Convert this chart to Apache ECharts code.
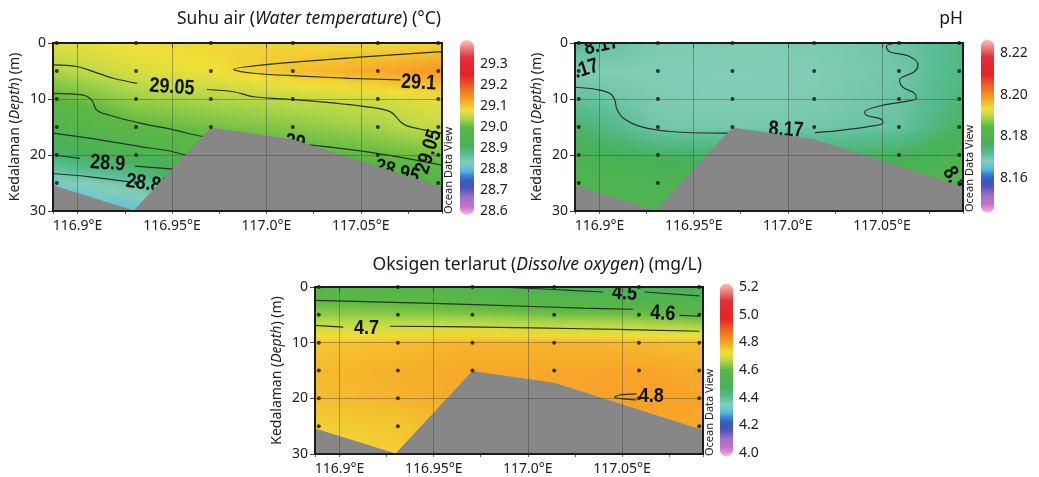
<!DOCTYPE html>
<html><head><meta charset="utf-8">
<script src="https://cdn.jsdelivr.net/npm/echarts@6/dist/echarts.min.js"></script>
<style>html,body{margin:0;padding:0;background:#fff}#c{width:1039px;height:477px}</style>
</head><body><div id="c"></div>
<script>
// ---------------- DATA ----------------
const stationLon = [116.889, 116.931, 116.9706, 117.014, 117.059, 117.091];
const depthLevels = [0, 5, 10, 15, 20, 25, 30];
const sampleDepths = [[0,5,10,15,20,25],[0,5,10,15,20,25],[0,5,10,15],[0,5,10,15],[0,5,10,15,20],[0,5,10,15,20,25]];
const bathyLon = [116.887, 116.9298, 116.9706, 117.014, 117.093];
const bathyDepth = [25.5, 30, 15.2, 17.3, 25.8];

// field values at stations (rows = depth levels, columns = stations)
const tempGrid = [
  [29.07, 29.085, 29.09, 29.09, 29.085, 29.09],
  [29.04, 29.065, 29.08, 29.105, 29.125, 29.14],
  [28.995, 29.03, 29.04, 29.05, 29.06, 29.075],
  [28.955, 28.995, 29.01, 29.02, 29.035, 29.055],
  [28.90, 28.935, 28.98, 28.99, 29.00, 29.01],
  [28.82, 28.85, 28.93, 28.95, 28.96, 28.97],
  [28.79, 28.80, 28.88, 28.90, 28.92, 28.93]
];
const phGrid = [
  [8.172, 8.169, 8.1688, 8.1688, 8.1702, 8.173],
  [8.1685, 8.1685, 8.1682, 8.1685, 8.1698, 8.173],
  [8.171, 8.1688, 8.1685, 8.1688, 8.1702, 8.174],
  [8.175, 8.1697, 8.1694, 8.1697, 8.1706, 8.176],
  [8.178, 8.176, 8.175, 8.175, 8.176, 8.179],
  [8.180, 8.179, 8.178, 8.178, 8.179, 8.181],
  [8.181, 8.180, 8.180, 8.180, 8.180, 8.182]
];
const doGrid = [
  [4.56, 4.55, 4.53, 4.50, 4.48, 4.47],
  [4.645, 4.64, 4.635, 4.62, 4.615, 4.59],
  [4.755, 4.765, 4.775, 4.775, 4.77, 4.765],
  [4.77, 4.78, 4.79, 4.79, 4.795, 4.785],
  [4.765, 4.775, 4.79, 4.795, 4.802, 4.795],
  [4.745, 4.755, 4.78, 4.79, 4.795, 4.79],
  [4.735, 4.745, 4.77, 4.78, 4.79, 4.785]
];

// colour bar value ranges and tick labels
const tempBar = [28.581, 29.414];
const phBar = [8.1433, 8.2264];
const doBar = [3.9755, 5.2245];
const tempTicks = [28.6, 29.3, 0.1];
const phTicks = [8.16, 8.22, 0.02];
const doTicks = [4.0, 5.2, 0.2];

// contour lines [lon, depth]
const tempContours = [
  [[117.0931,1.55],[117.0533,2.45],[117.018,3.34],[116.9932,4.1],[116.9826,4.7],[116.9932,5.4],[117.018,5.9],[117.0445,6.3],[117.071,6.6]],
  [[116.887,3.9],[116.8996,4.2],[116.9084,5.1],[116.919,6.3],[116.9314,7.2]],
  [[116.9685,8.3],[116.9826,8.7],[116.9932,9.6],[117.018,10.2],[117.0533,11.4],[117.0657,12.3],[117.071,14.05],[117.0745,14.8],[117.0833,15.5],[117.093,16.1]],
  [[116.887,9.0],[116.903,9.3],[116.9075,10.2],[116.9102,12.0],[116.917,12.9],[116.9331,14.3],[116.9508,15.5],[116.9667,16.7],[116.99,17.3],[117.008,17.6]],
  [[117.023,18.2],[117.0586,19.7],[117.093,21.8]],
  [[116.887,16.1],[116.912,17.3],[116.9331,18.5],[116.9473,19.2],[116.9579,20.0],[116.97,20.5]],
  [[116.887,20.0],[116.9013,20.6]],
  [[116.9305,22.0],[116.9543,22.6]],
  [[116.887,23.3],[116.9066,23.9],[116.9278,24.8]]
];
const phContours = [
  [[116.887,7.9],[116.8985,8.3],[116.9056,9.0],[116.9082,10.2],[116.9091,11.7],[116.9126,13.4],[116.9215,14.9],[116.9374,15.8],[116.9639,16.1],[116.985,16.0]],
  [[117.0143,16.0],[117.0258,15.7],[117.0434,14.9],[117.0505,14.3],[117.0496,13.6],[117.0417,12.9],[117.0408,12.3],[117.0487,11.25],[117.0611,10.5],[117.0682,9.9],[117.0673,9.0],[117.0611,7.9],[117.0593,6.6],[117.0673,5.1],[117.0691,3.9],[117.0646,2.4],[117.054,1.55],[117.0523,0.66],[117.0576,0]]
];
const doContours = [
  [[116.985,0],[117.0116,0.4],[117.0399,0.9]],
  [[117.062,0.9],[117.0911,1.6]],
  [[116.887,2.4],[116.9232,2.7],[116.9762,3.2],[117.0293,3.8],[117.0558,4.0]],
  [[117.0805,5.1],[117.0911,5.25]],
  [[116.887,6.9],[116.902,7.2]],
  [[116.9268,7.05],[116.9762,7.2],[117.0293,7.5],[117.0911,7.95]],
  [[117.0576,19.2],[117.0487,19.4],[117.046,19.8],[117.0505,20.1],[117.0576,20.3]]
];
// contour labels [lon, depth, text, rotation deg]
const tempLabels = [[116.95,7.9,'29.05',-4],[117.0806,7.1,'29.1',-3],[117.0153,17.8,'29',-8],[117.086,19.4,'29.05',72],[117.0692,23.0,'28.95',-15],[116.916,21.5,'28.9',-4],[116.9375,25.2,'28.85',-8]];
const phLabels = [[116.9012,0.4,'8.17',12],[116.8905,4.9,'8.17',18],[116.9991,15.5,'8.17',-3],[117.0894,25.1,'8.18',-60]];
const doLabels = [[117.0514,1.2,'4.5',-3],[117.0717,4.8,'4.6',-3],[116.9144,7.35,'4.7',0],[117.0655,19.7,'4.8',0]];

const titles = ['Suhu air ({i|Water temperature}) (°C)', 'pH', 'Oksigen terlarut ({i|Dissolve oxygen}) (mg/L)'];
const depthName = 'Kedalaman ({i|Depth}) (m)';
const odvText = 'Ocean Data View';

// ---------------- STYLE ----------------
const FONT = '"Noto Sans", "Open Sans", sans-serif';
const LFONT = '"Liberation Sans", Arial, sans-serif';
const cmapStops = [
  [0.00,'#f2c6e2'],[0.04,'#d070c8'],[0.10,'#a070c8'],[0.16,'#4050b8'],[0.21,'#3068c8'],
  [0.255,'#5cbce0'],[0.30,'#84cdb8'],[0.345,'#58bc94'],[0.40,'#48b058'],[0.50,'#5cb843'],
  [0.555,'#b5d84a'],[0.60,'#f0e038'],[0.655,'#f7a528'],[0.72,'#f07020'],[0.80,'#e52228'],
  [0.90,'#e0303c'],[0.96,'#ec8a88'],[1.00,'#f6c8b4']
];
function hex2rgb(h){return [parseInt(h.substr(1,2),16),parseInt(h.substr(3,2),16),parseInt(h.substr(5,2),16)];}
const cmapRGB = cmapStops.map(s=>[s[0],hex2rgb(s[1])]);
function cmap(t){
  t=Math.max(0,Math.min(1,t));
  for(let k=1;k<cmapRGB.length;k++){
    if(t<=cmapRGB[k][0]){
      const a=cmapRGB[k-1],b=cmapRGB[k];const f=(t-a[0])/(b[0]-a[0]);
      return 'rgb('+[0,1,2].map(c=>Math.round(a[1][c]+(b[1][c]-a[1][c])*f)).join(',')+')';
    }
  }
  const l=cmapRGB[cmapRGB.length-1][1];return 'rgb('+l.join(',')+')';
}
function colorFor(v,r){return cmap((v-r[0])/(r[1]-r[0]));}

function fieldData(grid){
  const d=[];
  for(let j=0;j<depthLevels.length-1;j++)for(let i=0;i<stationLon.length-1;i++)
    d.push([stationLon[i],stationLon[i+1],depthLevels[j],depthLevels[j+1],grid[j][i],grid[j][i+1],grid[j+1][i],grid[j+1][i+1],i]);
  return d;
}
function fieldRender(range){
  const nx=stationLon.length-1;
  return function(params,api){
    const cs=params.coordSys;
    const pa=api.coord([api.value(0),api.value(2)]);
    const pb=api.coord([api.value(1),api.value(3)]);
    const i=api.value(8);
    const v00=api.value(4),v10=api.value(5),v01=api.value(6),v11=api.value(7);
    const xa=i===0?cs.x:pa[0];
    const xb=i===nx-1?cs.x+cs.width:pb[0];
    const ya=pa[1],yb=pb[1];
    const n=Math.max(1,Math.ceil((xb-xa)/2.5));
    const w=(xb-xa)/n;
    const children=[];
    for(let k=0;k<n;k++){
      const xc=xa+(k+0.5)*w;
      let fx=(xc-pa[0])/(pb[0]-pa[0]);fx=Math.max(0,Math.min(1,fx));
      const top=v00+(v10-v00)*fx,bot=v01+(v11-v01)*fx;
      const stops=[];
      for(let s=0;s<=4;s++){const f=s/4;stops.push({offset:f,color:colorFor(top+(bot-top)*f,range)});}
      children.push({type:'rect',shape:{x:xa+k*w,y:ya,width:w+0.8,height:yb-ya+0.8},
        style:{fill:{type:'linear',x:0,y:0,x2:0,y2:1,colorStops:stops}}});
    }
    return {type:'group',children};
  };
}
function barRender(){
  return function(params,api){
    const cs=params.coordSys;
    const yTop=api.coord([0.5,api.value(2)])[1],yBot=api.coord([0.5,api.value(1)])[1];
    const stops=[];
    for(let s=0;s<=40;s++){stops.push({offset:s/40,color:cmap(1-s/40)});}
    return {type:'rect',shape:{x:cs.x,y:yTop,width:cs.width,height:yBot-yTop,r:cs.width/2},
      style:{fill:{type:'linear',x:0,y:0,x2:0,y2:1,colorStops:stops}}};
  };
}
function lonFmt(v){let s=v.toFixed(2);if(s.endsWith('0'))s=v.toFixed(1);return s+'°E';}

const plotGrids=[
  {left:53,top:43,width:389,height:168},
  {left:575,top:43,width:388,height:168},
  {left:315,top:287,width:388,height:167}
];
const barGrids=[
  {left:460,top:64,width:14,height:147},
  {left:981,top:53,width:13,height:125},
  {left:720,top:287,width:13,height:166}
];
const grids=[];
plotGrids.forEach(g=>grids.push(Object.assign({show:true,borderColor:'#1c1c1c',borderWidth:2,backgroundColor:'transparent',z:8},g)));
barGrids.forEach(g=>grids.push(Object.assign({show:false},g)));

const xAxes=[],yAxes=[];
for(let k=0;k<3;k++){
  xAxes.push({gridIndex:k,type:'value',min:116.887,max:117.093,minInterval:0.05,maxInterval:0.05,z:6,position:'bottom',
    axisLine:{show:false},axisTick:{show:true,length:5,lineStyle:{color:'#444'}},
    axisLabel:{show:true,margin:8,fontSize:14,color:'#222',fontFamily:FONT,formatter:lonFmt,showMinLabel:false,showMaxLabel:false},
    splitLine:{show:true,lineStyle:{color:'rgba(60,60,60,0.4)',width:1}}});
}
const barTicks=[tempTicks,phTicks,doTicks];
const barDec=[1,2,1];
for(let k=0;k<3;k++){
  xAxes.push({gridIndex:3+k,type:'value',min:0,max:1,show:false});
}
for(let k=0;k<3;k++){
  xAxes.push({gridIndex:k,type:'value',min:116.887,max:117.093,minInterval:0.025,maxInterval:0.025,z:6,position:'bottom',
    axisLine:{show:false},axisTick:{show:true,length:3,lineStyle:{color:'#666'}},axisLabel:{show:false},splitLine:{show:false}});
}
for(let k=0;k<3;k++){
  yAxes.push({gridIndex:k,type:'value',min:0,max:30,interval:10,inverse:true,z:6,
    name:depthName,nameLocation:'middle',nameGap:31,
    nameTextStyle:{fontSize:14,color:'#222',fontFamily:FONT,rich:{i:{fontStyle:'italic',fontSize:14,color:'#222',fontFamily:FONT}}},
    axisLine:{show:false},axisTick:{show:true,length:5,lineStyle:{color:'#444'}},
    axisLabel:{margin:7,fontSize:14,color:'#222',fontFamily:FONT},
    splitLine:{show:true,lineStyle:{color:'rgba(60,60,60,0.4)',width:1}}});
}
for(let k=0;k<3;k++){
  const t=barTicks[k];const dec=barDec[k];
  yAxes.push({gridIndex:3+k,type:'value',position:'right',min:t[0],max:t[1],interval:t[2],
    axisLine:{show:false},axisTick:{show:false},splitLine:{show:false},
    axisLabel:{margin:6,fontSize:14,color:'#222',fontFamily:FONT,formatter:v=>v.toFixed(dec)}});
}

const series=[];
const grids3=[tempGrid,phGrid,doGrid];
const bars3=[tempBar,phBar,doBar];
const contours3=[tempContours,phContours,doContours];
const labels3=[tempLabels,phLabels,doLabels];
for(let k=0;k<3;k++){
  series.push({type:'custom',xAxisIndex:k,yAxisIndex:k,clip:true,z:1,silent:true,
    encode:{x:[0,1],y:[2,3]},data:fieldData(grids3[k]),renderItem:fieldRender(bars3[k])});
  contours3[k].forEach(seg=>series.push({type:'line',xAxisIndex:k,yAxisIndex:k,data:seg,smooth:0.35,symbol:'none',
    lineStyle:{color:'#25342a',width:1.2},z:2,silent:true}));
  const labs=labels3[k];
  series.push({type:'custom',xAxisIndex:k,yAxisIndex:k,clip:true,z:3,silent:true,
    data:labs.map(l=>[l[0],l[1]]),
    renderItem:(params,api)=>{const l=labs[params.dataIndex];const p=api.coord([l[0],l[1]]);
      return {type:'text',x:p[0],y:p[1],rotation:l[3]*Math.PI/180,scaleX:0.86,
        style:{text:l[2],fontSize:21,fontWeight:'bold',fontFamily:LFONT,fill:'#111',align:'center',verticalAlign:'middle'}};}});
  series.push({type:'line',xAxisIndex:k,yAxisIndex:k,data:bathyLon.map((x,i)=>[x,bathyDepth[i]]),symbol:'none',
    lineStyle:{color:'#878787',width:1},areaStyle:{color:'#878787',opacity:1,origin:'end'},z:4,silent:true});
  const dots=[];
  stationLon.forEach((x,i)=>sampleDepths[i].forEach(d=>dots.push([x,d])));
  series.push({type:'scatter',xAxisIndex:k,yAxisIndex:k,data:dots,symbolSize:4,itemStyle:{color:'#111'},z:5,silent:true,clip:false});
  series.push({type:'custom',xAxisIndex:3+k,yAxisIndex:3+k,clip:false,z:2,silent:true,
    data:[[0.5,bars3[k][0],bars3[k][1]]],encode:{x:0,y:[1,2]},renderItem:barRender()});
}

const titleCfg=[{right:598,top:10},{right:76,top:10},{right:337,top:256}].map((p,k)=>Object.assign({
  text:titles[k],textStyle:{fontSize:17.5,fontWeight:'normal',color:'#1a1a1a',fontFamily:FONT,
    rich:{i:{fontStyle:'italic',fontSize:17.5,color:'#1a1a1a',fontFamily:FONT}}},padding:0},p));

const odvPos=[[449,214],[970,212],[710,456]];
const graphics=odvPos.map(p=>({type:'text',x:p[0],y:p[1],rotation:Math.PI/2,z:10,
  style:{text:odvText,fontSize:11,fontFamily:FONT,fill:'#222',align:'left',verticalAlign:'middle'}}));

const chart=echarts.init(document.getElementById('c'),null,{renderer:'canvas'});
chart.setOption({animation:false,backgroundColor:'#fff',textStyle:{fontFamily:FONT},
  title:titleCfg,grid:grids,xAxis:xAxes,yAxis:yAxes,series:series,graphic:graphics});
</script></body></html>
